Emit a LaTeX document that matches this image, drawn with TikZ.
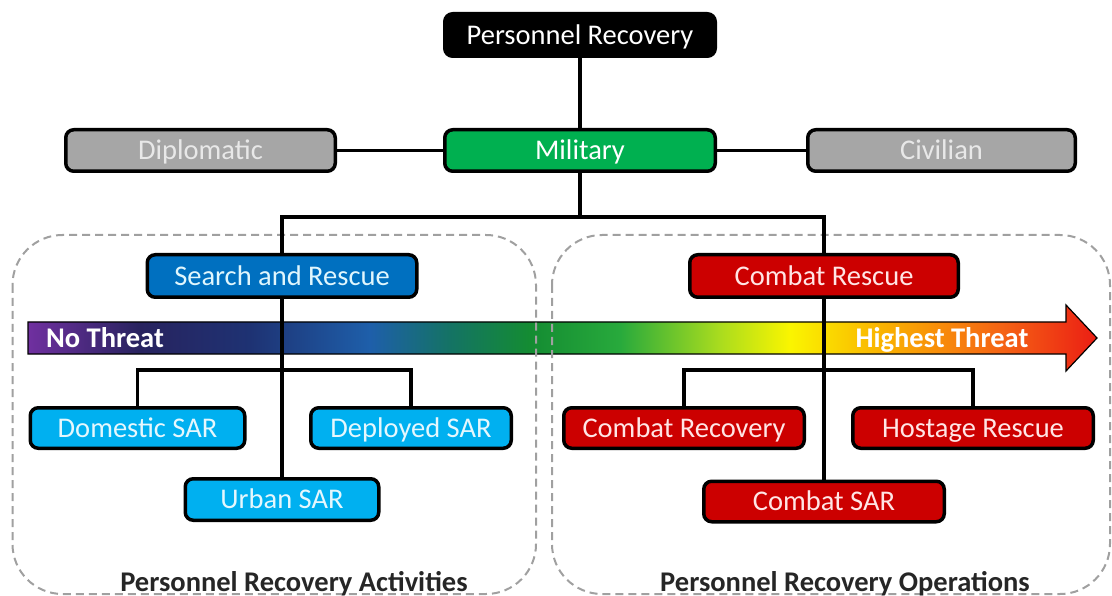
\documentclass[tikz,border=0pt]{standalone}
\usepackage{fontspec}
\setmainfont{Carlito}
\usetikzlibrary{positioning}

\definecolor{milgreen}{HTML}{00B050}
\definecolor{othergray}{HTML}{A6A6A6}
\definecolor{othertext}{HTML}{E8E8E8}
\definecolor{sarblue}{HTML}{0070C0}
\definecolor{sarcyan}{HTML}{00B0F0}
\definecolor{combatred}{HTML}{CC0000}
\definecolor{regiongray}{HTML}{A0A0A0}
\definecolor{thrA}{RGB}{112,48,160}
\definecolor{thrB}{RGB}{40,35,95}
\definecolor{thrC}{RGB}{30,50,115}
\definecolor{thrD}{RGB}{30,95,170}
\definecolor{thrE}{RGB}{20,115,100}
\definecolor{thrF}{RGB}{20,140,50}
\definecolor{thrG}{RGB}{40,170,60}
\definecolor{thrH}{RGB}{170,220,30}
\definecolor{thrI}{RGB}{250,245,0}
\definecolor{thrJ}{RGB}{250,180,0}
\definecolor{thrK}{RGB}{245,100,20}
\definecolor{thrL}{RGB}{235,30,20}

\pgfdeclarehorizontalshading{threat}{100bp}{color(0bp)=(thrA); color(25bp)=(thrA);
  color(30.24bp)=(thrB); color(35.38bp)=(thrC); color(41bp)=(thrD); color(44.74bp)=(thrE);
  color(48.48bp)=(thrF); color(52.69bp)=(thrG); color(57.36bp)=(thrH); color(60.64bp)=(thrI);
  color(64.85bp)=(thrJ); color(70.46bp)=(thrK); color(75bp)=(thrL); color(100bp)=(thrL)}

\tikzset{
  box/.style={draw=black, line width=3.5pt, rounded corners=8pt, inner sep=0pt,
    text height=18.4pt, text depth=0pt, font=\fontsize{28.5}{30}\selectfont},
  topbox/.style={box, fill=black, text=white},
  milbox/.style={box, fill=milgreen, text=white},
  otherbox/.style={box, fill=othergray, text=othertext},
  sarbox/.style={box, fill=sarblue, text=white!88!sarcyan},
  subbox/.style={box, fill=sarcyan, text=white!90!sarcyan},
  redbox/.style={box, fill=combatred, text=white!90!red},
  link/.style={line width=3.5pt, draw=black},
  region/.style={draw=regiongray, line width=2pt, dash pattern=on 8pt off 5pt, rounded corners=50pt},
  threatlabel/.style={text=white, inner sep=0pt, text height=18.4pt, text depth=0pt,
    font=\fontsize{28.5}{30}\selectfont\bfseries},
  regionlabel/.style={text=black!85, inner sep=0pt, font=\fontsize{28.5}{30}\selectfont\bfseries}
}

\begin{document}
\begin{tikzpicture}[x=1pt, y=-1pt]
  \useasboundingbox (0,0) rectangle (1112,596);

  \shadedraw[shading=threat, draw=black, line width=1.2pt]
    (28,322) -- (1066,322) -- (1066,305) -- (1097,338) -- (1066,371) -- (1066,354) -- (28,354) -- cycle;
  \node[threatlabel] (nothreat) at (105,338) {No Threat};
  \node[threatlabel] (hithreat) at (942,338) {Highest Threat};

  \draw[region] (12.5,235) rectangle (536,594);
  \draw[region] (552,235) rectangle (1110,594);

  \node[topbox, minimum width=270.5pt, minimum height=42.5pt] (pr) at (580,35) {Personnel Recovery};
  \node[milbox, minimum width=270.5pt, minimum height=41.5pt] (mil) at (580,150.5) {Military};
  \node[otherbox, minimum width=269.5pt, minimum height=41.5pt] (dip) at (200.5,150.5) {Diplomatic};
  \node[otherbox, minimum width=267.5pt, minimum height=41.5pt] (civ) at (941.5,150.5) {Civilian};

  \node[sarbox, minimum width=269.5pt, minimum height=42.5pt] (sar) at (282,276) {Search and Rescue};
  \node[redbox, minimum width=268.5pt, minimum height=42.5pt] (cr) at (824,276) {Combat Rescue};

  \node[subbox, minimum width=214.5pt, minimum height=40.5pt] (dsar) at (137.5,428) {Domestic SAR};
  \node[subbox, minimum width=200.5pt, minimum height=40.5pt] (depsar) at (411,428) {Deployed SAR};
  \node[subbox, minimum width=193.5pt, minimum height=41.5pt] (usar) at (282,499.5) {Urban SAR};

  \node[redbox, minimum width=240.5pt, minimum height=40.5pt] (crec) at (684,428) {Combat Recovery};
  \node[redbox, minimum width=240.5pt, minimum height=40.5pt] (hr) at (973,428) {Hostage Rescue};
  \node[redbox, minimum width=240.5pt, minimum height=40.5pt] (csar) at (824,501.5) {Combat SAR};

  \coordinate (split) at (580,217);
  \coordinate (sarsplit) at (282,370);
  \coordinate (crsplit) at (824,370);

  \draw[link] (pr) -- (mil);
  \draw[link] (dip) -- (mil);
  \draw[link] (mil) -- (civ);
  \draw[link] (mil) -- (split);
  \draw[link] (sar) |- (split) -| (cr);
  \draw[link] (sar) -- (usar);
  \draw[link] (dsar) |- (sarsplit) -| (depsar);
  \draw[link] (cr) -- (csar);
  \draw[link] (crec) |- (crsplit) -| (hr);

  \node[regionlabel, anchor=base] (prac) at (294,591) {Personnel Recovery Activities};
  \node[regionlabel, anchor=base] (prop) at (845,591) {Personnel Recovery Operations};
\end{tikzpicture}
\end{document}
